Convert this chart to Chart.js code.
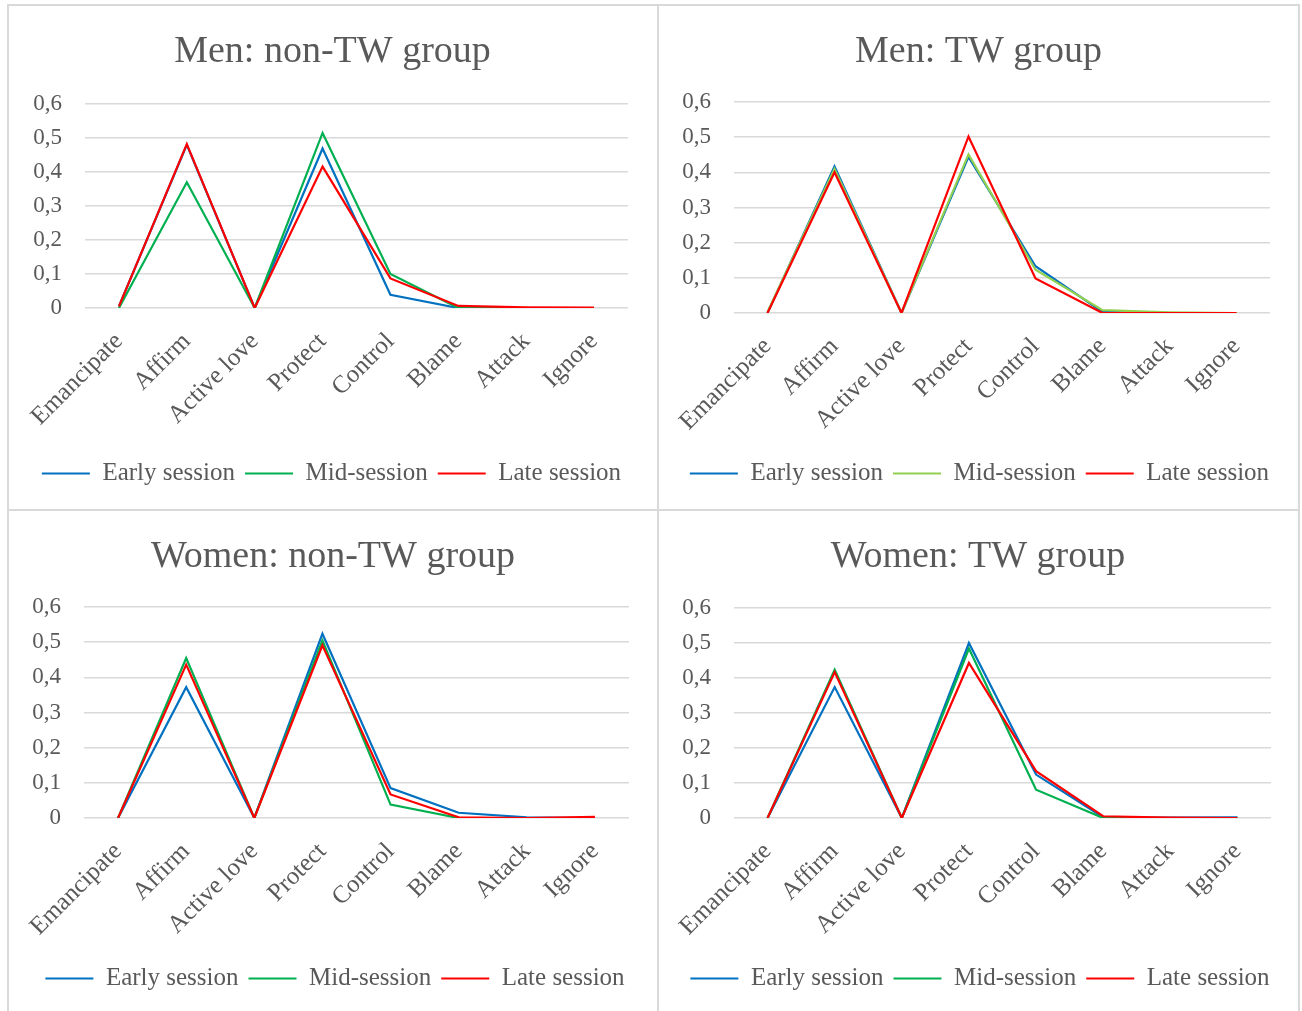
<!DOCTYPE html>
<html>
<head>
<meta charset="utf-8">
<script src="https://cdn.jsdelivr.net/npm/chart.js@4.4.0/dist/chart.umd.min.js"></script>
<style>
body { margin: 0; background: #fff; width: 1302px; height: 1011px; overflow: hidden; position: relative; }
.panel { position: absolute; border: 2px solid #d9d9d9; box-sizing: border-box; background: #fff; }
.panel canvas { position: absolute; left: 0; top: 0; }
</style>
</head>
<body>
<div class="panel" style="left:7px;top:4px;width:652px;height:507px"><canvas id="c1" width="648" height="503"></canvas></div>
<div class="panel" style="left:657px;top:4px;width:643px;height:507px"><canvas id="c2" width="639" height="503"></canvas></div>
<div class="panel" style="left:7px;top:509px;width:652px;height:510px"><canvas id="c3" width="648" height="506"></canvas></div>
<div class="panel" style="left:657px;top:509px;width:643px;height:510px"><canvas id="c4" width="639" height="506"></canvas></div>

<script>
// categories + series names
var categories = ['Emancipate', 'Affirm', 'Active love', 'Protect', 'Control', 'Blame', 'Attack', 'Ignore'];
var seriesNames = ['Early session', 'Mid-session', 'Late session'];
var yTicks = [0, 0.1, 0.2, 0.3, 0.4, 0.5, 0.6];

// Men: non-TW group
var menNonTwEarly = [0.005, 0.48, 0, 0.469, 0.039, 0, 0, 0];
var menNonTwMid   = [0, 0.37, 0, 0.515, 0.1, 0, 0, 0];
var menNonTwLate  = [0.005, 0.482, 0, 0.416, 0.087, 0.006, 0.002, 0.001];

// Men: TW group
var menTwEarly = [0, 0.417, 0, 0.444, 0.133, 0.003, 0, 0];
var menTwMid   = [0.003, 0.41, 0, 0.451, 0.123, 0.008, 0.002, 0];
var menTwLate  = [0, 0.40, 0, 0.502, 0.098, 0, 0, 0];

// Women: non-TW group
var womenNonTwEarly = [0, 0.372, 0, 0.524, 0.085, 0.015, 0.002, 0];
var womenNonTwMid   = [0, 0.455, 0, 0.505, 0.038, 0, 0, 0];
var womenNonTwLate  = [0, 0.436, 0, 0.491, 0.067, 0.002, 0, 0.003];

// Women: TW group
var womenTwEarly = [0, 0.374, 0, 0.5, 0.124, 0.002, 0.001, 0.002];
var womenTwMid   = [0, 0.424, 0, 0.484, 0.081, 0, 0, 0];
var womenTwLate  = [0, 0.417, 0, 0.443, 0.134, 0.005, 0.001, 0];

var blue = '#0070C0';
var green = '#00B050';
var lightGreen = '#92D050';
var red = '#FF0000';

Chart.defaults.font.family = "'Liberation Serif', 'Times New Roman', serif";
Chart.defaults.color = '#595959';

// title/legend are not centred on the plot in the original, nudge them
var deslocar = {
    id: 'deslocar',
    afterLayout: function(chart) {
        var s = chart.options.plugins.deslocar;
        chart.titleBlock.left += s.title;
        chart.titleBlock.right += s.title;
        chart.legend.left += s.legend;
        chart.legend.right += s.legend;
    }
};

function grafico(id, titulo, early, mid, late, midColor, g) {
    var ctx = document.getElementById(id).getContext('2d');
    var w = ctx.canvas.width;
    var h = ctx.canvas.height;
    var cores = [blue, midColor, red];
    var dados = [early, mid, late];
    var datasets = [];
    for (var i = 0; i < 3; i++) {
        datasets.push({
            label: seriesNames[i],
            data: dados[i],
            borderColor: cores[i],
            backgroundColor: cores[i],
            borderWidth: 2.2,
            pointRadius: 0,
            tension: 0,
            fill: false,
            order: 2 - i
        });
    }
    return new Chart(ctx, {
        type: 'line',
        data: { labels: categories, datasets: datasets },
        plugins: [deslocar],
        options: {
            responsive: false,
            animation: false,
            layout: { padding: { left: 0, right: w - g.right, top: 0, bottom: h - 490 } },
            plugins: {
                deslocar: { title: g.tShift, legend: g.lShift },
                title: {
                    display: true,
                    text: titulo,
                    color: '#595959',
                    font: { size: 38, weight: 'normal', lineHeight: 1.2 },
                    padding: { top: 23, bottom: g.top - 23 - 45.6 }
                },
                legend: {
                    position: 'bottom',
                    labels: {
                        usePointStyle: true,
                        pointStyle: 'line',
                        pointStyleWidth: 48,
                        padding: 10,
                        color: '#595959',
                        font: { size: 25 },
                        sort: function(a, b) { return a.datasetIndex - b.datasetIndex; }
                    }
                },
                tooltip: { enabled: false }
            },
            scales: {
                x: {
                    offset: true,
                    grid: { display: false },
                    border: { display: false },
                    ticks: { autoSkip: false, minRotation: 45, maxRotation: 45, padding: 11, font: { size: 25 }, color: '#595959' },
                    afterFit: function(scale) { scale.height = 445 - g.bottom; }
                },
                y: {
                    min: 0,
                    max: 0.6,
                    afterBuildTicks: function(scale) {
                        scale.ticks = yTicks.map(function(v) { return { value: v }; });
                    },
                    grid: { color: '#d9d9d9', lineWidth: 1.5, drawTicks: false },
                    border: { display: false },
                    ticks: {
                        padding: 23,
                        font: { size: 23 },
                        color: '#595959',
                        callback: function(v) { return v === 0 ? '0' : v.toFixed(1).replace('.', ','); }
                    },
                    afterFit: function(scale) { scale.width = g.left; }
                }
            }
        }
    });
}

grafico('c1', 'Men: non-TW group', menNonTwEarly, menNonTwMid, menNonTwLate, green, { left: 76, right: 619, top: 98, bottom: 302, tShift: 14, lShift: 13 });
grafico('c2', 'Men: TW group', menTwEarly, menTwMid, menTwLate, lightGreen, { left: 75, right: 611, top: 96, bottom: 307, tShift: 14, lShift: 15 });
grafico('c3', 'Women: non-TW group', womenNonTwEarly, womenNonTwMid, womenNonTwLate, green, { left: 75, right: 620, top: 96, bottom: 307, tShift: 14, lShift: 16 });
grafico('c4', 'Women: TW group', womenTwEarly, womenTwMid, womenTwLate, green, { left: 75, right: 612, top: 97, bottom: 307, tShift: 13, lShift: 15 });
</script>
</body>
</html>
